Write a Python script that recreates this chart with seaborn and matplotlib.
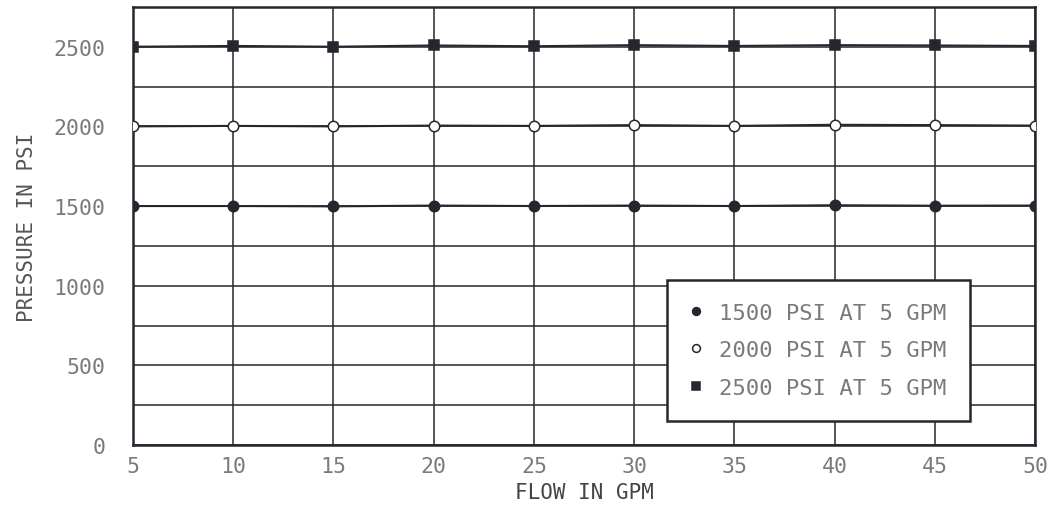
import numpy as np
import pandas as pd
import matplotlib.pyplot as plt
import seaborn as sns

# flow points (GPM) and measured pressure for each relief setting (PSI)
flow_gpm = [5, 10, 15, 20, 25, 30, 35, 40, 45, 50]
psi_1500 = [1500, 1500, 1498, 1503, 1500, 1503, 1500, 1505, 1502, 1503]
psi_2000 = [2000, 2003, 2000, 2005, 2003, 2008, 2003, 2010, 2008, 2005]
psi_2500 = [2500, 2505, 2500, 2508, 2503, 2510, 2505, 2510, 2508, 2505]
series_labels = ["1500 PSI AT 5 GPM", "2000 PSI AT 5 GPM", "2500 PSI AT 5 GPM"]
x_ticks = [5, 10, 15, 20, 25, 30, 35, 40, 45, 50]
y_ticks = [0, 500, 1000, 1500, 2000, 2500]

sns.set_style("white")
plt.rcParams["font.family"] = ["DejaVu Sans Mono"]

fig = plt.figure(figsize=(10.5, 5.1), dpi=100)
ax = fig.add_axes([0.1267, 0.1255, 0.859, 0.859])

ink = "#26262e"
txt = "#7a7a7a"

# grid every 5 GPM and every 250 PSI
for gx in x_ticks:
    ax.axvline(gx, color=ink, lw=1.1, zorder=1)
for gy in np.arange(0, 2751, 250):
    ax.axhline(gy, color=ink, lw=1.1, zorder=1)

styles = [
    dict(marker="o", markerfacecolor=ink, markeredgecolor=ink),
    dict(marker="o", markerfacecolor="white", markeredgecolor=ink),
    dict(marker="s", markerfacecolor=ink, markeredgecolor=ink),
]
for vals, lab, st in zip([psi_1500, psi_2000, psi_2500], series_labels, styles):
    df = pd.DataFrame({"flow": flow_gpm, "psi": vals})
    sns.lineplot(data=df, x="flow", y="psi", ax=ax, color=ink, lw=1.5,
                 markersize=7.5, markeredgewidth=1.1, label=lab, zorder=3, **st)

ax.set_xlim(5, 50)
ax.set_ylim(0, 2750)
ax.set_xticks(x_ticks)
ax.set_yticks(y_ticks)
ax.tick_params(axis="both", length=0, labelsize=15.5, labelcolor=txt)
ax.tick_params(axis="y", pad=20)
ax.tick_params(axis="x", pad=8)
for sp in ax.spines.values():
    sp.set_color(ink)
    sp.set_linewidth(1.8)

ax.set_xlabel("FLOW IN GPM", fontsize=15, color="#444444", labelpad=4)
ax.set_ylabel("PRESSURE IN PSI", fontsize=15, color="#555555", labelpad=12)

leg = ax.legend(loc="lower right", bbox_to_anchor=(0.928, 0.055), fontsize=16,
                frameon=True, fancybox=False, framealpha=1, edgecolor=ink,
                handlelength=0.5, handletextpad=0.8, borderpad=1.05,
                labelspacing=0.78, markerscale=0.75, borderaxespad=0)
leg.get_frame().set_linewidth(1.8)
for t in leg.get_texts():
    t.set_color(txt)
for h in leg.get_lines():
    h.set_linestyle("none")

fig.savefig("out.png", dpi=100, facecolor="white")
